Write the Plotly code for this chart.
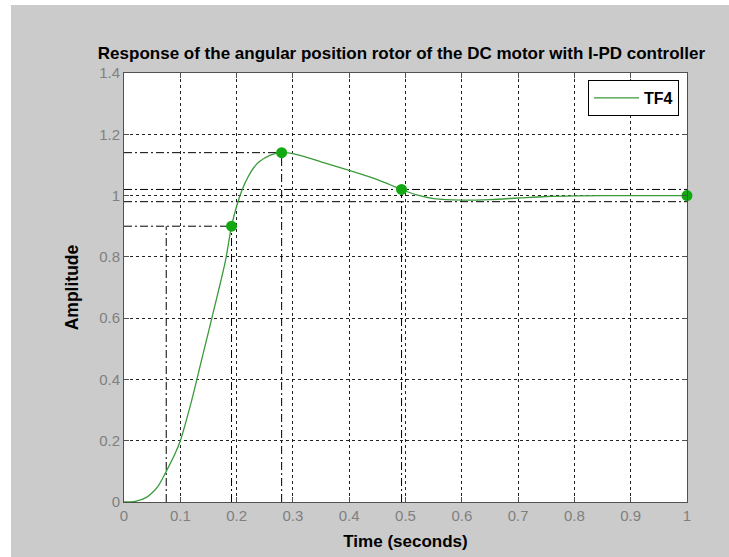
import plotly.graph_objects as go

# ---- data ----
time_s = [0, 0.02, 0.04, 0.05, 0.06, 0.075, 0.09, 0.10, 0.12, 0.14, 0.16, 0.18, 0.191,
          0.20, 0.21, 0.22, 0.23, 0.24, 0.26, 0.28, 0.30, 0.35, 0.40, 0.45, 0.493, 0.52,
          0.55, 0.60, 0.65, 0.70, 0.75, 0.80, 0.90, 1.00]
amplitude = [0, 0.002, 0.015, 0.03, 0.05, 0.10, 0.155, 0.20, 0.33, 0.48, 0.63, 0.785, 0.90,
             0.965, 1.02, 1.06, 1.09, 1.11, 1.132, 1.14, 1.137, 1.11, 1.082, 1.052, 1.02, 1.002,
             0.99, 0.985, 0.987, 0.992, 0.997, 0.999, 1.0, 1.0]

rise_t10 = 0.075
rise_t90 = 0.191
rise_level = 0.90
peak_t = 0.28
peak_y = 1.14
settle_t = 0.493
settle_hi = 1.02
settle_lo = 0.98
final_t = 1.0
final_y = 1.0

marker_t = [rise_t90, peak_t, settle_t, final_t]
marker_y = [rise_level, peak_y, settle_hi, final_y]

x_ticks = [0, 0.1, 0.2, 0.3, 0.4, 0.5, 0.6, 0.7, 0.8, 0.9, 1]
x_labels = ["0", "0.1", "0.2", "0.3", "0.4", "0.5", "0.6", "0.7", "0.8", "0.9", "1"]
y_ticks = [0, 0.2, 0.4, 0.6, 0.8, 1.0, 1.2, 1.4]
y_labels = ["0", "0.2", "0.4", "0.6", "0.8", "1", "1.2", "1.4"]

title_text = "Response of the angular position rotor of the DC motor with I-PD controller"

# ---- figure ----
W, H = 729, 557
L, R, T, B = 124, 42, 73, 55
pw, ph = W - L - R, H - T - B
FONT = "Liberation Sans, Arial"

DASHDOT = "8px,3px,2px,3px"
ref_line = dict(color="black", width=1, dash=DASHDOT)

fig = go.Figure()

# characteristic reference lines
segments = [
    ([0, rise_t90], [rise_level, rise_level]),
    ([rise_t10, rise_t10], [0, rise_level]),
    ([rise_t90, rise_t90], [0, rise_level]),
    ([0, peak_t], [peak_y, peak_y]),
    ([peak_t, peak_t], [0, peak_y]),
    ([0, final_t], [settle_hi, settle_hi]),
    ([0, final_t], [settle_lo, settle_lo]),
    ([settle_t, settle_t], [0, settle_hi]),
]
for xs, ys in segments:
    fig.add_trace(go.Scatter(x=xs, y=ys, mode="lines", line=ref_line,
                             showlegend=False, hoverinfo="skip"))

fig.add_trace(go.Scatter(x=time_s, y=amplitude, mode="lines", name="<b>TF4</b>",
                         line=dict(color="#3a9a3a", width=1.3, shape="spline", smoothing=0.8)))
fig.add_trace(go.Scatter(x=marker_t, y=marker_y, mode="markers", showlegend=False,
                         marker=dict(color="#12a812", size=11), cliponaxis=False))

axis_common = dict(
    showline=True, linecolor="#505050", linewidth=1, mirror="ticks",
    ticks="inside", ticklen=5, tickcolor="#505050",
    showgrid=True, gridcolor="#222222", gridwidth=1, griddash="3px,3px",
    zeroline=False,
    tickfont=dict(family=FONT, size=15, color="#808080"),
)

fig.update_xaxes(range=[0, 1], tickvals=x_ticks, ticktext=x_labels,
                 title=dict(text="<b>Time (seconds)</b>", standoff=12,
                            font=dict(family=FONT, size=17, color="black")),
                 **axis_common)
fig.update_yaxes(range=[0, 1.4], tickvals=y_ticks, ticktext=y_labels,
                 title=dict(text="<b>Amplitude</b>", standoff=16,
                            font=dict(family=FONT, size=17.5, color="black")),
                 **axis_common)

def px_x(p):
    return (p - L) / pw

def px_y(p):
    return (H - B - p) / ph

# white strips left/top of the gray figure
fig.add_shape(type="rect", xref="paper", yref="paper", layer="below",
              x0=px_x(-5), x1=px_x(11), y0=px_y(H + 5), y1=px_y(-5),
              fillcolor="white", line=dict(width=0))
fig.add_shape(type="rect", xref="paper", yref="paper", layer="below",
              x0=px_x(-5), x1=px_x(W + 5), y0=px_y(5), y1=px_y(-5),
              fillcolor="white", line=dict(width=0))

fig.update_layout(
    width=W, height=H,
    margin=dict(l=L, r=R, t=T, b=B, autoexpand=False),
    paper_bgcolor="#cbcbcb", plot_bgcolor="white",
    title=dict(text="<b>" + title_text + "</b>", x=401.5 / W,
               xanchor="center", y=1 - 53 / H, yanchor="middle",
               font=dict(family=FONT, size=17, color="black")),
    legend=dict(x=px_x(679), xanchor="right", y=px_y(80), yanchor="top",
                bgcolor="white", bordercolor="black", borderwidth=1,
                itemwidth=45,
                font=dict(family=FONT, size=16, color="black")),
    showlegend=True,
)

fig.write_html("out.html")
